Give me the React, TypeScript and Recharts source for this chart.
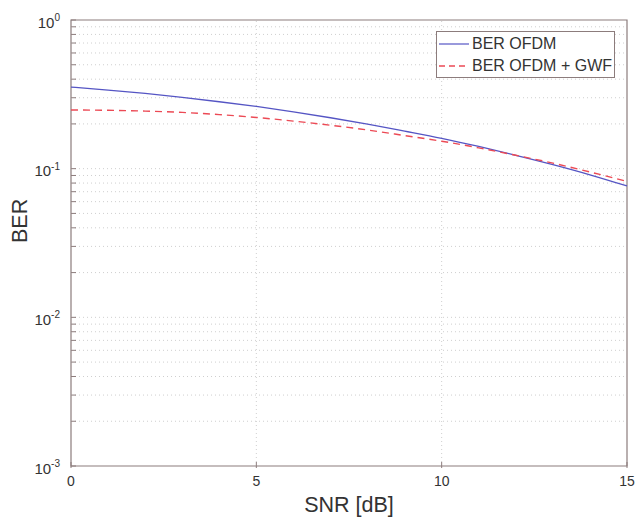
import React from 'react';
import {
    LineChart,
    Line,
    XAxis,
    YAxis,
    Legend,
    ReferenceArea,
    ReferenceLine,
} from 'recharts';

// SNR en dB
const snr = [0, 1, 2, 3, 4, 5, 6, 7, 8, 9, 10, 11, 12, 13, 14, 15];

// BER sin y con filtro GWF
const berOfdm = [0.354, 0.338, 0.321, 0.302, 0.282, 0.262, 0.241, 0.22, 0.1995, 0.179, 0.16, 0.141, 0.123, 0.1065, 0.091, 0.0765];
const berOfdmGwf = [0.248, 0.247, 0.244, 0.239, 0.231, 0.221, 0.209, 0.196, 0.182, 0.167, 0.153, 0.138, 0.123, 0.109, 0.095, 0.082];

const xTicks = [0, 5, 10, 15];
const decades = [0.001, 0.01, 0.1, 1];
const decadeExp = [-3, -2, -1, 0];

// lineas menores de la rejilla logaritmica (2..9 x 10^k)
const minorTicks: number[] = [];
[0.001, 0.01, 0.1].forEach((d) => {
    for (let m = 2; m <= 9; m++) minorTicks.push(+(m * d).toPrecision(3));
});

const data = snr.map((s, i) => ({ snr: s, ofdm: berOfdm[i], gwf: berOfdmGwf[i] }));

const BLUE = '#5555c4';
const RED = '#ec4a55';
const AXIS = '#8c7c7c';
const TEXT = '#333';
const GRID = '#cfcfcf';
const FONT = '"Liberation Sans", Arial, sans-serif';

const YTick = (props: any) => {
    const { x, y, payload } = props;
    const idx = decades.indexOf(payload.value);
    return (
        <g>
            <line x1={x + 4} x2={x + 9} y1={y} y2={y} stroke={AXIS} />
            {idx >= 0 && (
                <text x={x - 7} y={y + 7.5} textAnchor="end" fill={TEXT} fontSize={15} fontFamily={FONT}>
                    10
                    <tspan dy={-6.5} fontSize={10}>{decadeExp[idx]}</tspan>
                </text>
            )}
        </g>
    );
};

const XTick = (props: any) => {
    const { x, y, payload } = props;
    return (
        <g>
            <line x1={x} x2={x} y1={y} y2={y - 6} stroke={AXIS} />
            <text x={x} y={y + 18} textAnchor="middle" fill={TEXT} fontSize={14} fontFamily={FONT}>
                {payload.value}
            </text>
        </g>
    );
};

const legendRow: React.CSSProperties = {
    display: 'flex',
    alignItems: 'center',
    whiteSpace: 'nowrap',
};

const LegendBox = () => (
    <div
        style={{
            position: 'absolute',
            left: 436,
            top: 31,
            width: 179,
            height: 47,
            border: `1px solid ${AXIS}`,
            background: '#fff',
            fontFamily: FONT,
            fontSize: 16,
            color: TEXT,
            boxSizing: 'border-box',
        }}
    >
        <div style={{ ...legendRow, height: 22, marginTop: 1 }}>
            <svg width={35} height={10} style={{ flexShrink: 0 }}>
                <line x1={2} x2={32} y1={5} y2={5} stroke={BLUE} strokeWidth={1.2} />
            </svg>
            <span>BER OFDM</span>
        </div>
        <div style={{ ...legendRow, height: 21 }}>
            <svg width={35} height={10} style={{ flexShrink: 0 }}>
                <line x1={2} x2={32} y1={5} y2={5} stroke={RED} strokeWidth={1.4} strokeDasharray="6 4" />
            </svg>
            <span>BER OFDM + GWF</span>
        </div>
    </div>
);

export default function App() {
    return (
        <div style={{ position: 'fixed', left: 0, top: 0, width: 635, height: 519, background: '#fff' }}>
            <LineChart
                width={635}
                height={519}
                data={data}
                margin={{ top: 20, right: 8, bottom: 13, left: 11 }}
            >
                {[...minorTicks, 0.01, 0.1].map((v) => (
                    <ReferenceLine key={`h-${v}`} y={v} stroke={GRID} strokeDasharray="1 3" />
                ))}
                {[5, 10].map((v) => (
                    <ReferenceLine key={`v-${v}`} x={v} stroke={GRID} strokeDasharray="1 3" />
                ))}
                <XAxis
                    dataKey="snr"
                    type="number"
                    domain={[0, 15]}
                    ticks={xTicks}
                    height={40}
                    axisLine={false}
                    tickLine={false}
                    tickSize={0}
                    tick={<XTick />}
                    label={{ value: 'SNR [dB]', position: 'insideBottom', offset: -6, fill: TEXT, fontSize: 21.5, fontFamily: FONT }}
                />
                <YAxis
                    scale="log"
                    domain={[0.001, 1]}
                    allowDataOverflow
                    ticks={[...decades, ...minorTicks]}
                    interval={0}
                    width={60}
                    axisLine={false}
                    tickLine={false}
                    tickSize={0}
                    tickMargin={4}
                    tick={<YTick />}
                    label={{ value: 'BER', angle: -90, position: 'insideLeft', offset: 8, fill: TEXT, fontSize: 21.5, fontFamily: FONT }}
                />
                <ReferenceArea x1={0} x2={15} y1={0.001} y2={1} fill="none" stroke={AXIS} strokeWidth={1.2} />
                <Line
                    type="monotone"
                    dataKey="ofdm"
                    stroke={BLUE}
                    strokeWidth={1.3}
                    dot={false}
                    isAnimationActive={false}
                />
                <Line
                    type="monotone"
                    dataKey="gwf"
                    stroke={RED}
                    strokeWidth={1.4}
                    strokeDasharray="7 5"
                    dot={false}
                    isAnimationActive={false}
                />
                <Legend content={<LegendBox />} wrapperStyle={{ position: 'absolute', left: 0, top: 0, width: 0, height: 0 }} />
            </LineChart>
        </div>
    );
}
